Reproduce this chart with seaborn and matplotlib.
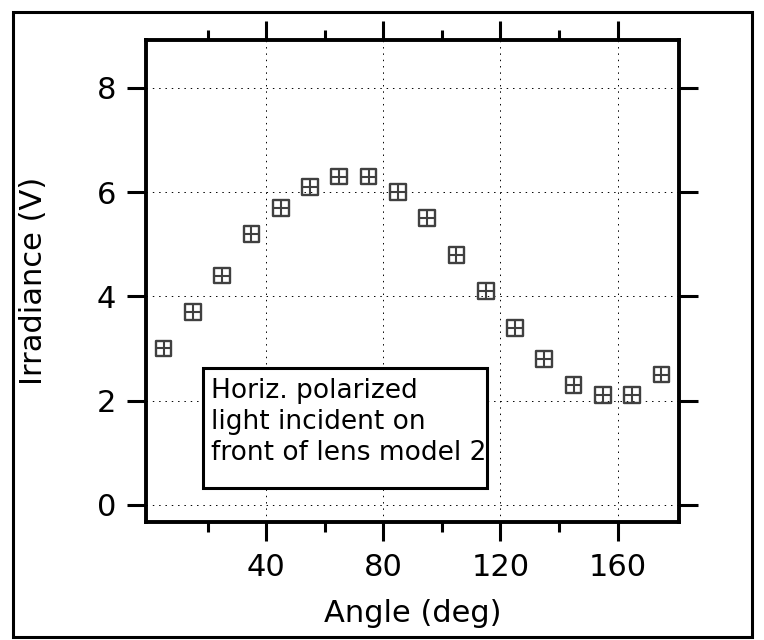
import matplotlib
matplotlib.use("Agg")
import matplotlib.pyplot as plt
from matplotlib.patches import Rectangle
from matplotlib.ticker import FixedLocator
import numpy as np
import pandas as pd
import seaborn as sns

# ---- data ----
angle_deg = [5, 15, 25, 35, 45, 55, 65, 75, 85, 95, 105, 115, 125, 135, 145, 155, 165, 175]
irradiance_v = [3.0, 3.7, 4.4, 5.2, 5.7, 6.1, 6.3, 6.3, 6.0, 5.5, 4.8, 4.1, 3.4, 2.8, 2.3, 2.1, 2.1, 2.5]
x_major_ticks = [40, 80, 120, 160]
x_minor_ticks = [20, 60, 100, 140]
y_major_ticks = [0, 2, 4, 6, 8]
x_label = "Angle (deg)"
y_label = "Irradiance (V)"
note_text = "Horiz. polarized\nlight incident on\nfront of lens model 2"

df = pd.DataFrame({"angle": angle_deg, "irr": irradiance_v})

sns.set_style("ticks")
plt.rcParams["font.family"] = ["DejaVu Sans"]
plt.rcParams["text.color"] = "black"
plt.rcParams["axes.labelcolor"] = "black"
plt.rcParams["xtick.color"] = "black"
plt.rcParams["ytick.color"] = "black"
plt.rcParams["xtick.labelcolor"] = "black"
plt.rcParams["ytick.labelcolor"] = "black"

fig = plt.figure(figsize=(7.64, 6.4), dpi=100)
ax = fig.add_axes([146 / 764, 1 - 522 / 640, (679 - 146) / 764, (522 - 40) / 640])

mk_color = "#404040"
sns.scatterplot(data=df, x="angle", y="irr", ax=ax, marker="s", s=130,
                facecolor="none", edgecolor=mk_color, linewidth=1.7, zorder=3)
sns.scatterplot(data=df, x="angle", y="irr", ax=ax, marker="+", s=130,
                color=mk_color, linewidth=1.5, zorder=3)

ax.set_xlim(-1, 181)
ax.set_ylim(-0.33, 8.92)

ax.xaxis.set_major_locator(FixedLocator(x_major_ticks))
ax.xaxis.set_minor_locator(FixedLocator(x_minor_ticks))
ax.yaxis.set_major_locator(FixedLocator(y_major_ticks))
ax.set_xticklabels([str(v) for v in x_major_ticks])
ax.set_yticklabels([str(v) for v in y_major_ticks])

ax.grid(True, which="major", color="black", linestyle=(0, (1.5, 5)), linewidth=0.7)
ax.set_axisbelow(True)

for sp in ax.spines.values():
    sp.set_visible(True)
    sp.set_linewidth(2.8)
    sp.set_color("black")

ax.tick_params(which="major", direction="out", length=13.5, width=2.2, color="black",
               top=True, right=True, labelsize=22, pad=8, labelcolor="black")
ax.tick_params(which="minor", direction="out", length=7, width=2.2, color="black",
               top=True, bottom=True)
ax.tick_params(axis="x", which="major", pad=9)

ax.set_xlabel(x_label, fontsize=22, color="black")
ax.set_ylabel(y_label, fontsize=22, color="black")
ax.xaxis.set_label_coords(0.5, -0.16)
ax.yaxis.set_label_coords(-0.183, 0.5)

# annotation box
fig.patches.append(Rectangle((203 / 764, 1 - 488 / 640), 284 / 764, 120 / 640,
                             transform=fig.transFigure, facecolor="white",
                             edgecolor="black", linewidth=2.2, zorder=5))
fig.text(211 / 764, 1 - 378 / 640, note_text, fontsize=19, ha="left", va="top",
         linespacing=1.25, zorder=6, color="black")

# outer frame
fig.patches.append(Rectangle((13 / 764, 3 / 640), 739 / 764, 625 / 640,
                             transform=fig.transFigure, facecolor="none",
                             edgecolor="black", linewidth=2.2, zorder=1))

fig.savefig("out.png", dpi=100)
